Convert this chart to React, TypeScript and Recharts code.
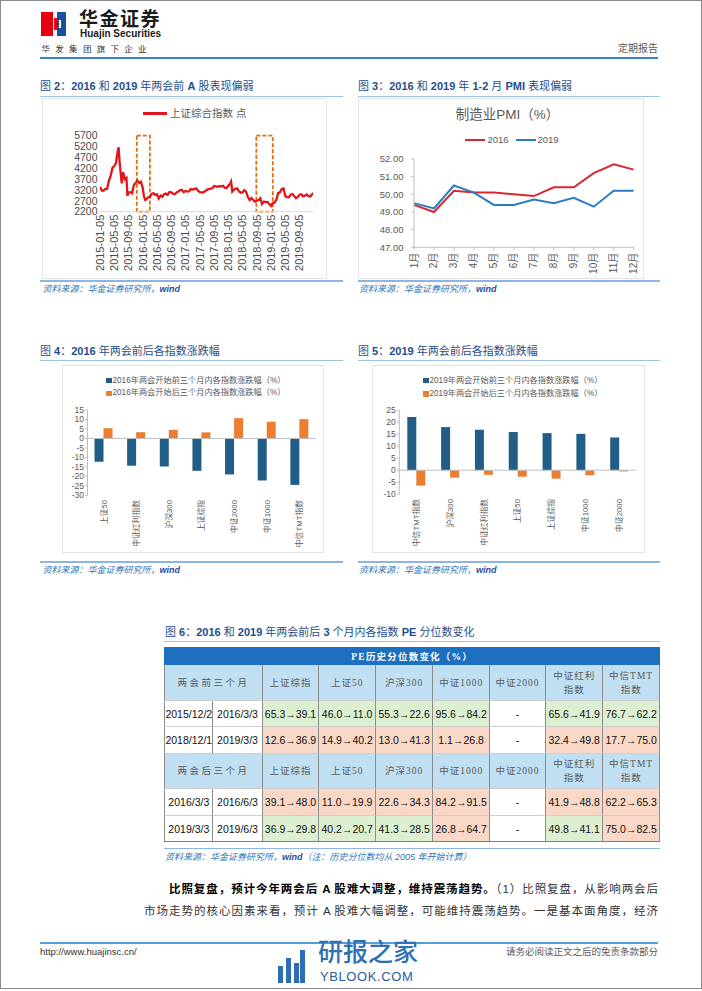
import React from 'react';
import { LineChart, Line, XAxis, YAxis, ReferenceArea, BarChart, Bar, ReferenceLine } from 'recharts';

const SANS = '"Liberation Sans", Arial, "Noto Sans CJK SC", sans-serif';
const SERIF = '"Liberation Serif", "Noto Sans CJK SC", serif';

// ---------- Chart 2: 上证综合指数 ----------
const shDates = [
  '2015-01-05','2015-01-20','2015-02-05','2015-02-20','2015-03-05','2015-03-20','2015-04-05','2015-04-20','2015-05-05','2015-05-20','2015-06-05','2015-06-12','2015-06-20','2015-07-08','2015-07-20','2015-08-05','2015-08-18','2015-08-26','2015-09-05','2015-09-20','2015-10-05','2015-10-20','2015-11-05','2015-11-20','2015-12-05','2015-12-20',
  '2016-01-05','2016-01-15','2016-01-27','2016-02-05','2016-02-20','2016-03-05','2016-03-20','2016-04-05','2016-04-20','2016-05-05','2016-05-20','2016-06-05','2016-06-20','2016-07-05','2016-07-20','2016-08-05','2016-08-20','2016-09-05','2016-09-20','2016-10-05','2016-10-20','2016-11-05','2016-11-20','2016-12-05','2016-12-20',
  '2017-01-05','2017-01-20','2017-02-05','2017-02-20','2017-03-05','2017-03-20','2017-04-05','2017-04-20','2017-05-05','2017-05-20','2017-06-05','2017-06-20','2017-07-05','2017-07-20','2017-08-05','2017-08-20','2017-09-05','2017-09-20','2017-10-05','2017-10-20','2017-11-05','2017-11-20','2017-12-05','2017-12-20',
  '2018-01-05','2018-01-20','2018-01-29','2018-02-09','2018-02-20','2018-03-05','2018-03-20','2018-04-05','2018-04-20','2018-05-05','2018-05-20','2018-06-05','2018-06-20','2018-07-05','2018-07-20','2018-08-05','2018-08-20','2018-09-05','2018-09-20','2018-10-05','2018-10-19','2018-11-05','2018-11-20','2018-12-05','2018-12-20',
  '2019-01-04','2019-01-20','2019-02-05','2019-02-20','2019-03-05','2019-03-20','2019-04-05','2019-04-20','2019-05-06','2019-05-20','2019-06-05','2019-06-20','2019-07-05','2019-07-20','2019-08-05','2019-08-20','2019-09-05','2019-09-20','2019-10-05','2019-10-20','2019-11-05','2019-11-20','2019-12-05','2019-12-20','2019-12-31',
];
const shValues = [
  3351,3173,3175,3247,3248,3617,3863,4217,4298,4446,5023,5166,4478,3507,4017,3694,3749,2927,3080,3097,3053,3425,3522,3630,3524,3579,
  3287,2901,2735,2763,2860,2874,3018,3053,2972,2997,2807,2938,2888,3006,3037,2978,3108,3090,3026,3004,3084,3126,3193,3204,3102,
  3165,3123,3140,3240,3218,3250,3270,3172,3103,3090,3091,3140,3207,3244,3262,3268,3385,3366,3348,3378,3371,3392,3303,3287,
  3391,3487,3587,3129,3199,3256,3279,3131,3071,3091,3193,3114,2875,2733,2829,2740,2668,2705,2729,2821,2550,2665,2645,2649,2549,
  2464,2596,2618,2761,3054,3090,3247,3270,2906,2870,2861,2987,3011,2924,2821,2880,2985,3006,2905,2938,2991,2911,2899,3005,3050,
];
const shTickDates = ['2015-01-05','2015-05-05','2015-09-05','2016-01-05','2016-05-05','2016-09-05','2017-01-05','2017-05-05','2017-09-05','2018-01-05','2018-05-05','2018-09-05','2019-01-05','2019-05-05','2019-09-05'];
const shYTicks = [2200, 2700, 3200, 3700, 4200, 4700, 5200, 5700];
const shStart = '2015-01-05';
const shEnd = '2019-12-31';
const shBoxes = [['2015-11-15', '2016-03-05'], ['2018-09-01', '2019-01-20']];

// ---------- Chart 3: PMI ----------
const pmiMonths = ['1月','2月','3月','4月','5月','6月','7月','8月','9月','10月','11月','12月'];
const pmi2016 = [49.4, 49.0, 50.2, 50.1, 50.1, 50.0, 49.9, 50.4, 50.4, 51.2, 51.7, 51.4];
const pmi2019 = [49.5, 49.2, 50.5, 50.1, 49.4, 49.4, 49.7, 49.5, 49.8, 49.3, 50.2, 50.2];
const pmiTicks = [47, 48, 49, 50, 51, 52];

// ---------- Chart 4: 2016 ----------
const cats2016 = ['上证50','中证红利指数','沪深300','上证综指','中证2000','中证1000','中信TMT指数'];
const before2016 = [-12.3, -14.4, -14.8, -17.1, -19.0, -22.2, -24.5];
const after2016 = [5.4, 3.3, 4.5, 3.2, 10.7, 8.8, 10.2];
const ticks2016 = [-30, -25, -20, -15, -10, -5, 0, 5, 10, 15];

// ---------- Chart 5: 2019 ----------
const cats2019 = ['中信TMT指数','沪深300','中证红利指数','上证50','上证综指','中证1000','中证2000'];
const before2019 = [22.1, 17.9, 16.8, 15.85, 15.4, 15.1, 13.6];
const after2019 = [-6.4, -3.1, -1.9, -2.7, -3.5, -2.1, -0.5];
const ticks2019 = [-10, -5, 0, 5, 10, 15, 20, 25];

// ---------- Table ----------
const peTitle = 'PE历史分位数变化（%）';
const peCols = ['上证综指', '上证50', '沪深300', '中证1000', '中证2000', '中证红利|指数', '中信TMT|指数'];
const preLabel = '两会前三个月';
const postLabel = '两会后三个月';
const preDates = [['2015/12/2', '2016/3/3'], ['2018/12/1', '2019/3/3']];
const preVals = [
  [[65.3, 39.1], [46.0, 11.0], [55.3, 22.6], [95.6, 84.2], null, [65.6, 41.9], [76.7, 62.2]],
  [[12.6, 36.9], [14.9, 40.2], [13.0, 41.3], [1.1, 26.8], null, [32.4, 49.8], [17.7, 75.0]],
];
const postDates = [['2016/3/3', '2016/6/3'], ['2019/3/3', '2019/6/3']];
const postVals = [
  [[39.1, 48.0], [11.0, 19.9], [22.6, 34.3], [84.2, 91.5], null, [41.9, 48.8], [62.2, 65.3]],
  [[36.9, 29.8], [40.2, 20.7], [41.3, 28.5], [26.8, 64.7], null, [49.8, 41.1], [75.0, 82.5]],
];

// ---------- helpers ----------
const monthPos = (d: string) => {
  const [y, m, dd] = d.split('-').map(Number);
  const [y0, m0, d0] = shStart.split('-').map(Number);
  return (y - y0) * 12 + (m - m0) + (dd - d0) / 30.4;
};

const shData = shDates.map((d, i) => ({ x: monthPos(d), v: shValues[i] }));
const shTickPos = shTickDates.map(monthPos);
const pmiData = pmiMonths.map((m, i) => ({ month: m, p2016: pmi2016[i], p2019: pmi2019[i] }));
const data2016 = cats2016.map((name, i) => ({ name, before: before2016[i], after: after2016[i] }));
const data2019 = cats2019.map((name, i) => ({ name, before: before2019[i], after: after2019[i] }));

const makeRotTick = (size: number, color: string, gap: number, fmt?: (v: any) => string) => (props: any) => {
  const { x, y, payload } = props;
  const label = fmt ? fmt(payload.value) : payload.value;
  return (
    <g transform={`translate(${x},${y})`}>
      <text transform="rotate(-90)" x={-gap} y={0} dy="0.35em" textAnchor="end" fontSize={size} fill={color} fontFamily={SANS}>
        {label}
      </text>
    </g>
  );
};

const shTickLabel = (v: number) => {
  let best = 0;
  shTickPos.forEach((p, i) => { if (Math.abs(p - v) < Math.abs(shTickPos[best] - v)) best = i; });
  return shTickDates[best];
};

const T = ({ x, y, s = 10, c = '#404040', a = 'left', children, style }: any) => {
  const h = s * 1.25;
  const pos: any = { position: 'absolute', top: y - h / 2, height: h, lineHeight: `${h}px`, fontSize: s, color: c, whiteSpace: 'nowrap' };
  if (a === 'left') pos.left = x;
  else if (a === 'right') pos.right = 702 - x;
  else { pos.left = x - 200; pos.width = 400; pos.textAlign = 'center'; }
  return <div style={{ ...pos, ...style }}>{children}</div>;
};

const HLine = ({ x1, x2, y, c = '#9DC3E6', t = 1 }: any) => (
  <div style={{ position: 'absolute', left: x1, top: y - t / 2, width: x2 - x1, height: t, background: c }} />
);

const boldLatin = (s: string) =>
  s.split(/([A-Za-z0-9\-\.%]+)/).map((p, i) => (/^[A-Za-z0-9\-\.%]+$/.test(p) ? <b key={i}>{p}</b> : <span key={i}>{p}</span>));

const Title = ({ x, y, text }: any) => (
  <T x={x} y={y} s={11} c="#1F4E8C">{boldLatin(text)}</T>
);

const Source = ({ x, y, note }: any) => (
  <T x={x} y={y} s={9} c="#2E75B6" style={{ fontStyle: 'italic' }}>
    资料来源：华金证券研究所，<b style={{ color: '#1F4E9C' }}>wind</b>{note || ''}
  </T>
);

const TICK_C = '#595959';
const AX_C = '#BFBFBF';
const BLUE = '#215E87';
const ORANGE = '#ED7D31';

const Frame = ({ l, t, r, b }: any) => (
  <div style={{ position: 'absolute', left: l, top: t, width: r - l, height: b - t, border: '1px solid #E4E4E4', boxSizing: 'border-box' }} />
);

function Chart2() {
  const dom: [number, number] = [0, monthPos(shEnd)];
  return (
    <div style={{ position: 'absolute', left: 42, top: 97 }}>
      <LineChart width={285} height={183} data={shData} margin={{ top: 38.7, right: 13.7, left: 0, bottom: 0 }}>
        <XAxis dataKey="x" type="number" domain={dom} ticks={shTickPos} interval={0} height={68.3}
          axisLine={{ stroke: '#D9D9D9' }} tickLine={false} tickSize={0} tickMargin={0}
          tick={makeRotTick(11, '#4A4A4A', 3, shTickLabel)} allowDataOverflow />
        <YAxis type="number" domain={[2200, 5700]} ticks={shYTicks} interval={0} width={58}
          axisLine={false} tickLine={false} tickSize={0} tickMargin={2.5}
          tick={{ fontSize: 10.5, fill: '#4A4A4A', fontFamily: SANS }} />
        <Line type="linear" dataKey="v" stroke="#E2151B" strokeWidth={2.3} dot={false} isAnimationActive={false} />
        {shBoxes.map((b, i) => (
          <ReferenceArea key={i} x1={monthPos(b[0])} x2={monthPos(b[1])} y1={2200} y2={5700}
            fill="none" fillOpacity={0} stroke="#E46C0A" strokeWidth={1.8} strokeDasharray="4 2" ifOverflow="visible" />
        ))}
      </LineChart>
    </div>
  );
}

function Chart3() {
  return (
    <div style={{ position: 'absolute', left: 358, top: 97 }}>
      <LineChart width={287} height={183} data={pmiData} margin={{ top: 62, right: 11.3, left: 0, bottom: 0 }}>
        <XAxis dataKey="month" scale="point" interval={0} height={32.7}
          axisLine={{ stroke: AX_C }} tickLine={{ stroke: AX_C }} tickSize={3} tickMargin={0}
          tick={makeRotTick(10, TICK_C, 2.5)} />
        <YAxis type="number" domain={[47, 52]} ticks={pmiTicks} interval={0} width={56}
          axisLine={{ stroke: AX_C }} tickLine={{ stroke: AX_C }} tickSize={3} tickMargin={7.5}
          tickFormatter={(v: number) => v.toFixed(2)}
          tick={{ fontSize: 9.5, fill: TICK_C, fontFamily: SANS }} />
        <Line type="linear" dataKey="p2016" stroke="#D7282F" strokeWidth={2} dot={false} isAnimationActive={false} />
        <Line type="linear" dataKey="p2019" stroke="#2F7BC1" strokeWidth={2} dot={false} isAnimationActive={false} />
      </LineChart>
    </div>
  );
}

function BarPanel({ left, width, yAxisW, rightM, xH, data, domain, ticks }: any) {
  return (
    <div style={{ position: 'absolute', left, top: 365 }}>
      <BarChart width={width} height={188} data={data} margin={{ top: 45, right: rightM, left: 0, bottom: 0 }} barGap={0}>
        <XAxis dataKey="name" interval={0} height={xH} axisLine={false} tickLine={false} tickSize={0} tickMargin={0}
          tick={makeRotTick(7.8, TICK_C, 4.7)} />
        <YAxis type="number" domain={domain} ticks={ticks} interval={0} width={yAxisW}
          axisLine={{ stroke: AX_C }} tickLine={{ stroke: AX_C }} tickSize={2.5} tickMargin={1}
          tick={{ fontSize: 8.5, fill: TICK_C, fontFamily: SANS }} />
        <ReferenceLine y={0} stroke={AX_C} strokeWidth={1} />
        <Bar dataKey="before" fill={BLUE} barSize={9} isAnimationActive={false} />
        <Bar dataKey="after" fill={ORANGE} barSize={9} isAnimationActive={false} />
      </BarChart>
    </div>
  );
}

const BarLegend = ({ x, y1, y2, year }: any) => (
  <>
    <div style={{ position: 'absolute', left: x, top: y1 - 2.8, width: 5.6, height: 5.6, background: BLUE }} />
    <T x={x + 6.5} y={y1} s={8.2} c={TICK_C}>{year}年两会开始前三个月内各指数涨跌幅（%）</T>
    <div style={{ position: 'absolute', left: x, top: y2 - 2.8, width: 5.6, height: 5.6, background: ORANGE }} />
    <T x={x + 6.5} y={y2} s={8.2} c={TICK_C}>{year}年两会开始后三个月内各指数涨跌幅（%）</T>
  </>
);

function PeTable() {
  const colW = [49, 49.4, 56.6, 56.7, 57.3, 56.7, 56, 57.3, 56.7];
  const rowH = [18.3, 36, 26.3, 27, 35, 26.7, 26.3];
  const X0 = 164.3, Y0 = 646.7;
  const xs = [X0]; colW.forEach((w) => xs.push(xs[xs.length - 1] + w));
  const ys = [Y0]; rowH.forEach((h) => ys.push(ys[ys.length - 1] + h));
  const totalW = xs[xs.length - 1] - X0;
  const cells: any[] = [];
  const GREEN = '#DCEFD0', SALMON = '#F9D8C8', LBLUE = '#C0DFF3';
  const cell = (key: string, c0: number, c1: number, r: number, content: any, bg: string, st: any = {}) => {
    cells.push(
      <div key={key} style={{
        position: 'absolute', left: xs[c0], top: ys[r], width: xs[c1] - xs[c0], height: rowH[r], background: bg,
        boxSizing: 'border-box', borderRight: '1px solid #8C8C8C', borderBottom: '1px solid #CFCFCF',
        borderLeft: c0 === 0 ? '1px solid #8C8C8C' : undefined,
        display: 'flex', alignItems: 'center', justifyContent: 'center', textAlign: 'center', ...st,
      }}>{content}</div>
    );
  };
  const hdrStyle = { fontFamily: SERIF, fontSize: 9.5, color: '#595959', letterSpacing: 1, lineHeight: '14px' };
  const dataStyle = { fontFamily: SANS, fontSize: 10.5, color: '#111', whiteSpace: 'nowrap' as const };
  const headerRow = (r: number, label: string) => {
    cell(`h${r}`, 0, 2, r, <span style={{ ...hdrStyle, letterSpacing: 2.5 }}>{label}</span>, LBLUE);
    peCols.forEach((c, i) => {
      const parts = c.split('|');
      cell(`h${r}-${i}`, i + 2, i + 3, r, <span style={hdrStyle}>{parts.map((p, k) => <div key={k}>{p}</div>)}</span>, LBLUE);
    });
  };
  const dataRow = (r: number, dates: string[], vals: any[]) => {
    cell(`d${r}a`, 0, 1, r, <span style={dataStyle}>{dates[0]}</span>, '#fff');
    cell(`d${r}b`, 1, 2, r, <span style={dataStyle}>{dates[1]}</span>, '#fff');
    vals.forEach((v: any, i: number) => {
      if (!v) { cell(`d${r}-${i}`, i + 2, i + 3, r, <span style={dataStyle}>-</span>, '#fff'); return; }
      const bg = v[1] < v[0] ? GREEN : SALMON;
      cell(`d${r}-${i}`, i + 2, i + 3, r, <span style={dataStyle}>{v[0].toFixed(1)}→{v[1].toFixed(1)}</span>, bg);
    });
  };
  cells.push(
    <div key="top" style={{ position: 'absolute', left: X0, top: Y0, width: totalW, height: rowH[0], background: '#1E6FBF',
      display: 'flex', alignItems: 'center', justifyContent: 'center', fontFamily: SERIF, fontSize: 9.5, color: '#fff', letterSpacing: 1.2, fontWeight: 700 }}>
      {peTitle}
    </div>
  );
  headerRow(1, preLabel);
  dataRow(2, preDates[0], preVals[0]);
  dataRow(3, preDates[1], preVals[1]);
  headerRow(4, postLabel);
  dataRow(5, postDates[0], postVals[0]);
  dataRow(6, postDates[1], postVals[1]);
  cells.push(<div key="bot" style={{ position: 'absolute', left: X0, top: ys[7] - 1, width: totalW, height: 1, background: '#7F7F7F' }} />);
  return <>{cells}</>;
}

export default function App() {
  return (
    <div style={{ position: 'absolute', left: 0, top: 0, width: 702, height: 991, background: '#fff', overflow: 'hidden', fontFamily: SANS }}>
      <div style={{ position: 'absolute', left: 0, top: 0, width: 702, height: 989, border: '1.5px solid #8A8A8A', boxSizing: 'border-box' }} />

      {/* header */}
      <div style={{ position: 'absolute', left: 41, top: 12, width: 12, height: 24, background: '#E60012' }} />
      <div style={{ position: 'absolute', left: 54, top: 18, width: 3, height: 12, background: '#E60012' }} />
      <div style={{ position: 'absolute', left: 57, top: 12, width: 9, height: 24, background: '#1D4F9F' }} />
      <div style={{ position: 'absolute', left: 59, top: 20, width: 2, height: 8, background: '#fff' }} />
      <T x={79} y={20} s={19} c="#1A1A1A" style={{ fontWeight: 700, letterSpacing: 1.5 }}>华金证券</T>
      <T x={80} y={34.5} s={10} c="#1A1A1A" style={{ fontWeight: 700 }}>Huajin Securities</T>
      <T x={41.5} y={49} s={8.5} c="#333" style={{ letterSpacing: 5.3 }}>华发集团旗下企业</T>
      <T x={658} y={49} s={10} c="#595959" a="right">定期报告</T>
      <HLine x1={40} x2={658} y={57.5} c="#3A7DC9" t={2} />

      {/* chart 2 */}
      <Title x={40} y={87} text="图 2：2016 和 2019 年两会前 A 股表现偏弱" />
      <HLine x1={40} x2={343} y={96.5} />
      <Frame l={42} t={98} r={327} b={279} />
      <Chart2 />
      <div style={{ position: 'absolute', left: 143, top: 112, width: 24, height: 2.5, background: '#E2151B' }} />
      <T x={170} y={113.3} s={10.5} c={TICK_C}>上证综合指数 点</T>
      <HLine x1={40} x2={343} y={281} c="#8EB4E3" t={1.5} />
      <Source x={42.5} y={290} />

      {/* chart 3 */}
      <Title x={358} y={87} text="图 3：2016 和 2019 年 1-2 月 PMI 表现偏弱" />
      <HLine x1={358} x2={660} y={96.5} />
      <Frame l={358} t={98} r={644} b={279} />
      <Chart3 />
      <T x={507.5} y={115} s={13.5} c={TICK_C} a="center">制造业PMI（%）</T>
      <div style={{ position: 'absolute', left: 465, top: 139, width: 20, height: 2, background: '#D7282F' }} />
      <T x={487.5} y={140} s={9.5} c={TICK_C}>2016</T>
      <div style={{ position: 'absolute', left: 516, top: 139, width: 19.5, height: 2, background: '#2F7BC1' }} />
      <T x={537.5} y={140} s={9.5} c={TICK_C}>2019</T>
      <HLine x1={358} x2={660} y={281} c="#8EB4E3" t={1.5} />
      <Source x={359} y={290} />

      {/* chart 4 */}
      <Title x={40} y={352} text="图 4：2016 年两会前后各指数涨跌幅" />
      <HLine x1={40} x2={343} y={360} />
      <Frame l={62} t={365} r={324} b={553} />
      <BarPanel left={62} width={262} yAxisW={25.5} rightM={8} xH={57.7} data={data2016} domain={[-30, 15]} ticks={ticks2016} />
      <BarLegend x={106} y1={380.7} y2={393.3} year="2016" />
      <HLine x1={40} x2={343} y={562} c="#8EB4E3" t={1.5} />
      <Source x={42.5} y={571} />

      {/* chart 5 */}
      <Title x={358} y={352} text="图 5：2019 年两会前后各指数涨跌幅" />
      <HLine x1={358} x2={660} y={360} />
      <Frame l={372} t={365} r={645} b={553} />
      <BarPanel left={372} width={273} yAxisW={27.3} rightM={9} xH={58.7} data={data2019} domain={[-10, 25]} ticks={ticks2019} />
      <BarLegend x={423} y1={380.7} y2={394} year="2019" />
      <HLine x1={358} x2={660} y={562} c="#8EB4E3" t={1.5} />
      <Source x={359} y={571} />

      {/* table */}
      <Title x={165} y={633} text="图 6：2016 和 2019 年两会前后 3 个月内各指数 PE 分位数变化" />
      <HLine x1={164} x2={660} y={641.7} />
      <PeTable />
      <HLine x1={164} x2={660} y={848.5} c="#8EB4E3" t={1.5} />
      <Source x={165} y={858} note="（注：历史分位数均从 2005 年开始计算）" />

      {/* body text */}
      <div style={{ position: 'absolute', left: 169, top: 880, width: 489, height: 18, lineHeight: '18px', fontSize: 11.5, color: '#333', textAlign: 'justify', textAlignLast: 'justify' as any }}>
        <b style={{ color: '#000' }}>比照复盘，预计今年两会后 A 股难大调整，维持震荡趋势。</b>（1）比照复盘，从影响两会后
      </div>
      <div style={{ position: 'absolute', left: 144, top: 902, width: 514, height: 18, lineHeight: '18px', fontSize: 11.5, color: '#333', textAlign: 'justify', textAlignLast: 'justify' as any }}>
        市场走势的核心因素来看，预计 A 股难大幅调整，可能维持震荡趋势。一是基本面角度，经济
      </div>

      {/* footer */}
      <HLine x1={40} x2={658} y={943} c="#5B9BD5" t={1.5} />
      <T x={40} y={952} s={9.5} c="#333">http://www.huajinsc.cn/</T>
      <T x={658} y={952} s={9.5} c="#595959" a="right">请务必阅读正文之后的免责条款部分</T>

      {/* watermark */}
      <div style={{ position: 'absolute', left: 278, top: 966, width: 5, height: 17, background: '#2E6DB4' }} />
      <div style={{ position: 'absolute', left: 286, top: 958, width: 5, height: 25, background: '#2E6DB4' }} />
      <div style={{ position: 'absolute', left: 294, top: 963, width: 5, height: 20, background: '#2E6DB4' }} />
      <div style={{ position: 'absolute', left: 300, top: 950, width: 5, height: 33, background: '#2E6DB4' }} />
      <T x={318} y={953} s={25} c="#2F6FB3" style={{ fontWeight: 500 }}>研报之家</T>
      <T x={320} y={977} s={13} c="#2B5E9E" style={{ letterSpacing: 0.6 }}>YBLOOK.COM</T>
    </div>
  );
}
